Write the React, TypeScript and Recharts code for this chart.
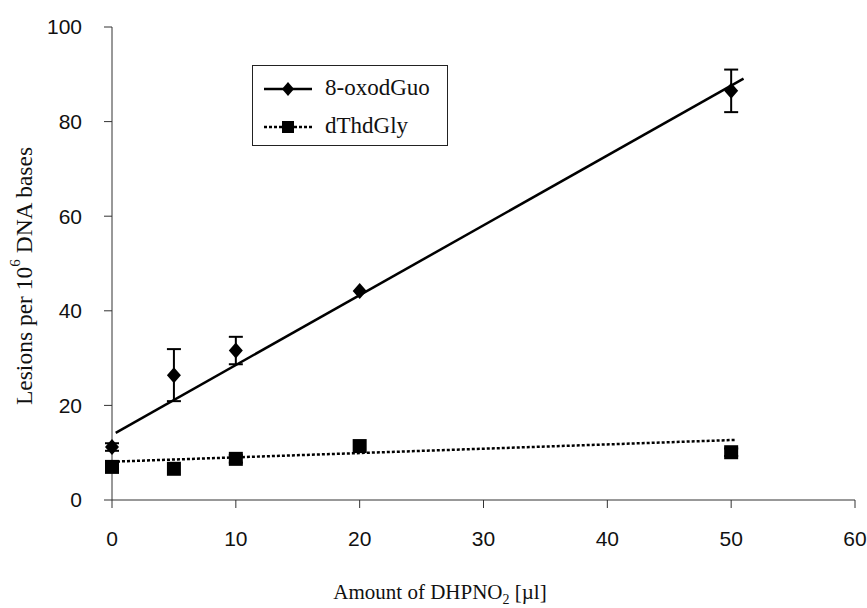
import { ComposedChart, Line, Scatter, ErrorBar, XAxis, YAxis, Legend, Label } from "recharts";

const doses = [0, 5, 10, 20, 50];
const oxoValues = [11.2, 26.4, 31.6, 44.2, 86.5];
const oxoErrors = [0.8, 5.5, 2.9, 0, 4.5];
const thdValues = [7.0, 6.6, 8.7, 11.4, 10.1];
const thdErrors = [0, 0, 0.8, 0, 0.8];

// fitted trend lines, read as end points off the picture
const oxoTrendX = [0.3, 51];
const oxoTrendY = [14.2, 89.1];
const thdTrendX = [0, 50.3];
const thdTrendY = [8.1, 12.7];

const xTicks = [0, 10, 20, 30, 40, 50, 60];
const yTicks = [0, 20, 40, 60, 80, 100];

const oxoData = doses.map((x, i) => ({ x, y: oxoValues[i], err: oxoErrors[i] }));
const thdData = doses.map((x, i) => ({ x, y: thdValues[i], err: thdErrors[i] }));
const oxoTrend = oxoTrendX.map((x, i) => ({ x, y: oxoTrendY[i] }));
const thdTrend = thdTrendX.map((x, i) => ({ x, y: thdTrendY[i] }));

const serif = '"Liberation Serif", "Times New Roman", serif';
const sans = '"Liberation Sans", Arial, sans-serif';

const Diamond = ({ cx, cy }: any) => (
  <path d={`M${cx},${cy - 8} L${cx + 7},${cy} L${cx},${cy + 8} L${cx - 7},${cy} Z`} fill="#000" />
);

const Square = ({ cx, cy }: any) => <rect x={cx - 7} y={cy - 7} width={14} height={14} fill="#000" />;

const YTitle = () => {
  const cx = 24;
  const cy = 276;
  return (
    <text
      x={cx}
      y={cy}
      transform={`rotate(-90, ${cx}, ${cy})`}
      textAnchor="middle"
      dominantBaseline="central"
      fontFamily={serif}
      fontSize={23.5}
      fill="#111"
    >
      Lesions per 10
      <tspan dy={-9} fontSize={15}>6</tspan>
      <tspan dy={9}> DNA bases</tspan>
    </text>
  );
};

const XTitle = () => (
  <text x={440} y={599} textAnchor="middle" fontFamily={serif} fontSize={21} fill="#111">
    Amount of DHPNO
    <tspan dy={5} fontSize={14}>2</tspan>
    <tspan dy={-5}> [µl]</tspan>
  </text>
);

const LegendBox = () => (
  <div
    style={{
      position: "relative",
      width: 196,
      height: 81,
      boxSizing: "border-box",
      border: "1.5px solid #222",
      background: "#fff",
      fontFamily: serif,
      fontSize: 23,
      color: "#111",
    }}
  >
    <svg width={60} height={81} style={{ position: "absolute", left: 0, top: 0 }}>
      <line x1={11} y1={23} x2={59} y2={23} stroke="#000" strokeWidth={2.5} />
      <path d="M35,16 L41,23 L35,30 L29,23 Z" fill="#000" />
      <line x1={11} y1={61} x2={59} y2={61} stroke="#000" strokeWidth={2.5} strokeDasharray="3 2" />
      <rect x={29} y={55} width={12} height={12} fill="#000" />
    </svg>
    <div style={{ position: "absolute", left: 72, top: 8, lineHeight: "28px" }}>8-oxodGuo</div>
    <div style={{ position: "absolute", left: 72, top: 46, lineHeight: "28px" }}>dThdGly</div>
  </div>
);

export default function App() {
  return (
    <div style={{ position: "absolute", left: 0, top: 0, background: "#fff" }}>
      <ComposedChart width={867} height={608} margin={{ top: 27, right: 12, bottom: 48, left: 52 }}>
        <XAxis
          dataKey="x"
          type="number"
          domain={[0, 60]}
          ticks={xTicks}
          height={60}
          stroke="#333"
          tickSize={8}
          tickMargin={23}
          tick={{ fill: "#111", fontFamily: sans, fontSize: 21 }}
          allowDuplicatedCategory={false}
        >
          <Label content={<XTitle />} />
        </XAxis>
        <YAxis
          dataKey="y"
          type="number"
          domain={[0, 100]}
          ticks={yTicks}
          width={60}
          stroke="#333"
          tickSize={8}
          tickMargin={22}
          tick={{ fill: "#111", fontFamily: sans, fontSize: 21 }}
        >
          <Label content={<YTitle />} />
        </YAxis>
        <Legend
          layout="vertical"
          align="center"
          verticalAlign="middle"
          content={<LegendBox />}
          wrapperStyle={{ left: 252, top: 65, width: 196, height: 81 }}
        />
        <Line
          data={oxoTrend}
          dataKey="y"
          stroke="#000"
          strokeWidth={2.5}
          dot={false}
          legendType="none"
          isAnimationActive={false}
        />
        <Line
          data={thdTrend}
          dataKey="y"
          stroke="#000"
          strokeWidth={2.5}
          strokeDasharray="3 2"
          dot={false}
          legendType="none"
          isAnimationActive={false}
        />
        <Scatter name="8-oxodGuo" data={oxoData} dataKey="y" shape={<Diamond />} isAnimationActive={false}>
          <ErrorBar dataKey="err" direction="y" width={7} stroke="#000" strokeWidth={2} />
        </Scatter>
        <Scatter name="dThdGly" data={thdData} dataKey="y" shape={<Square />} isAnimationActive={false}>
          <ErrorBar dataKey="err" direction="y" width={7} stroke="#000" strokeWidth={2} />
        </Scatter>
      </ComposedChart>
    </div>
  );
}
